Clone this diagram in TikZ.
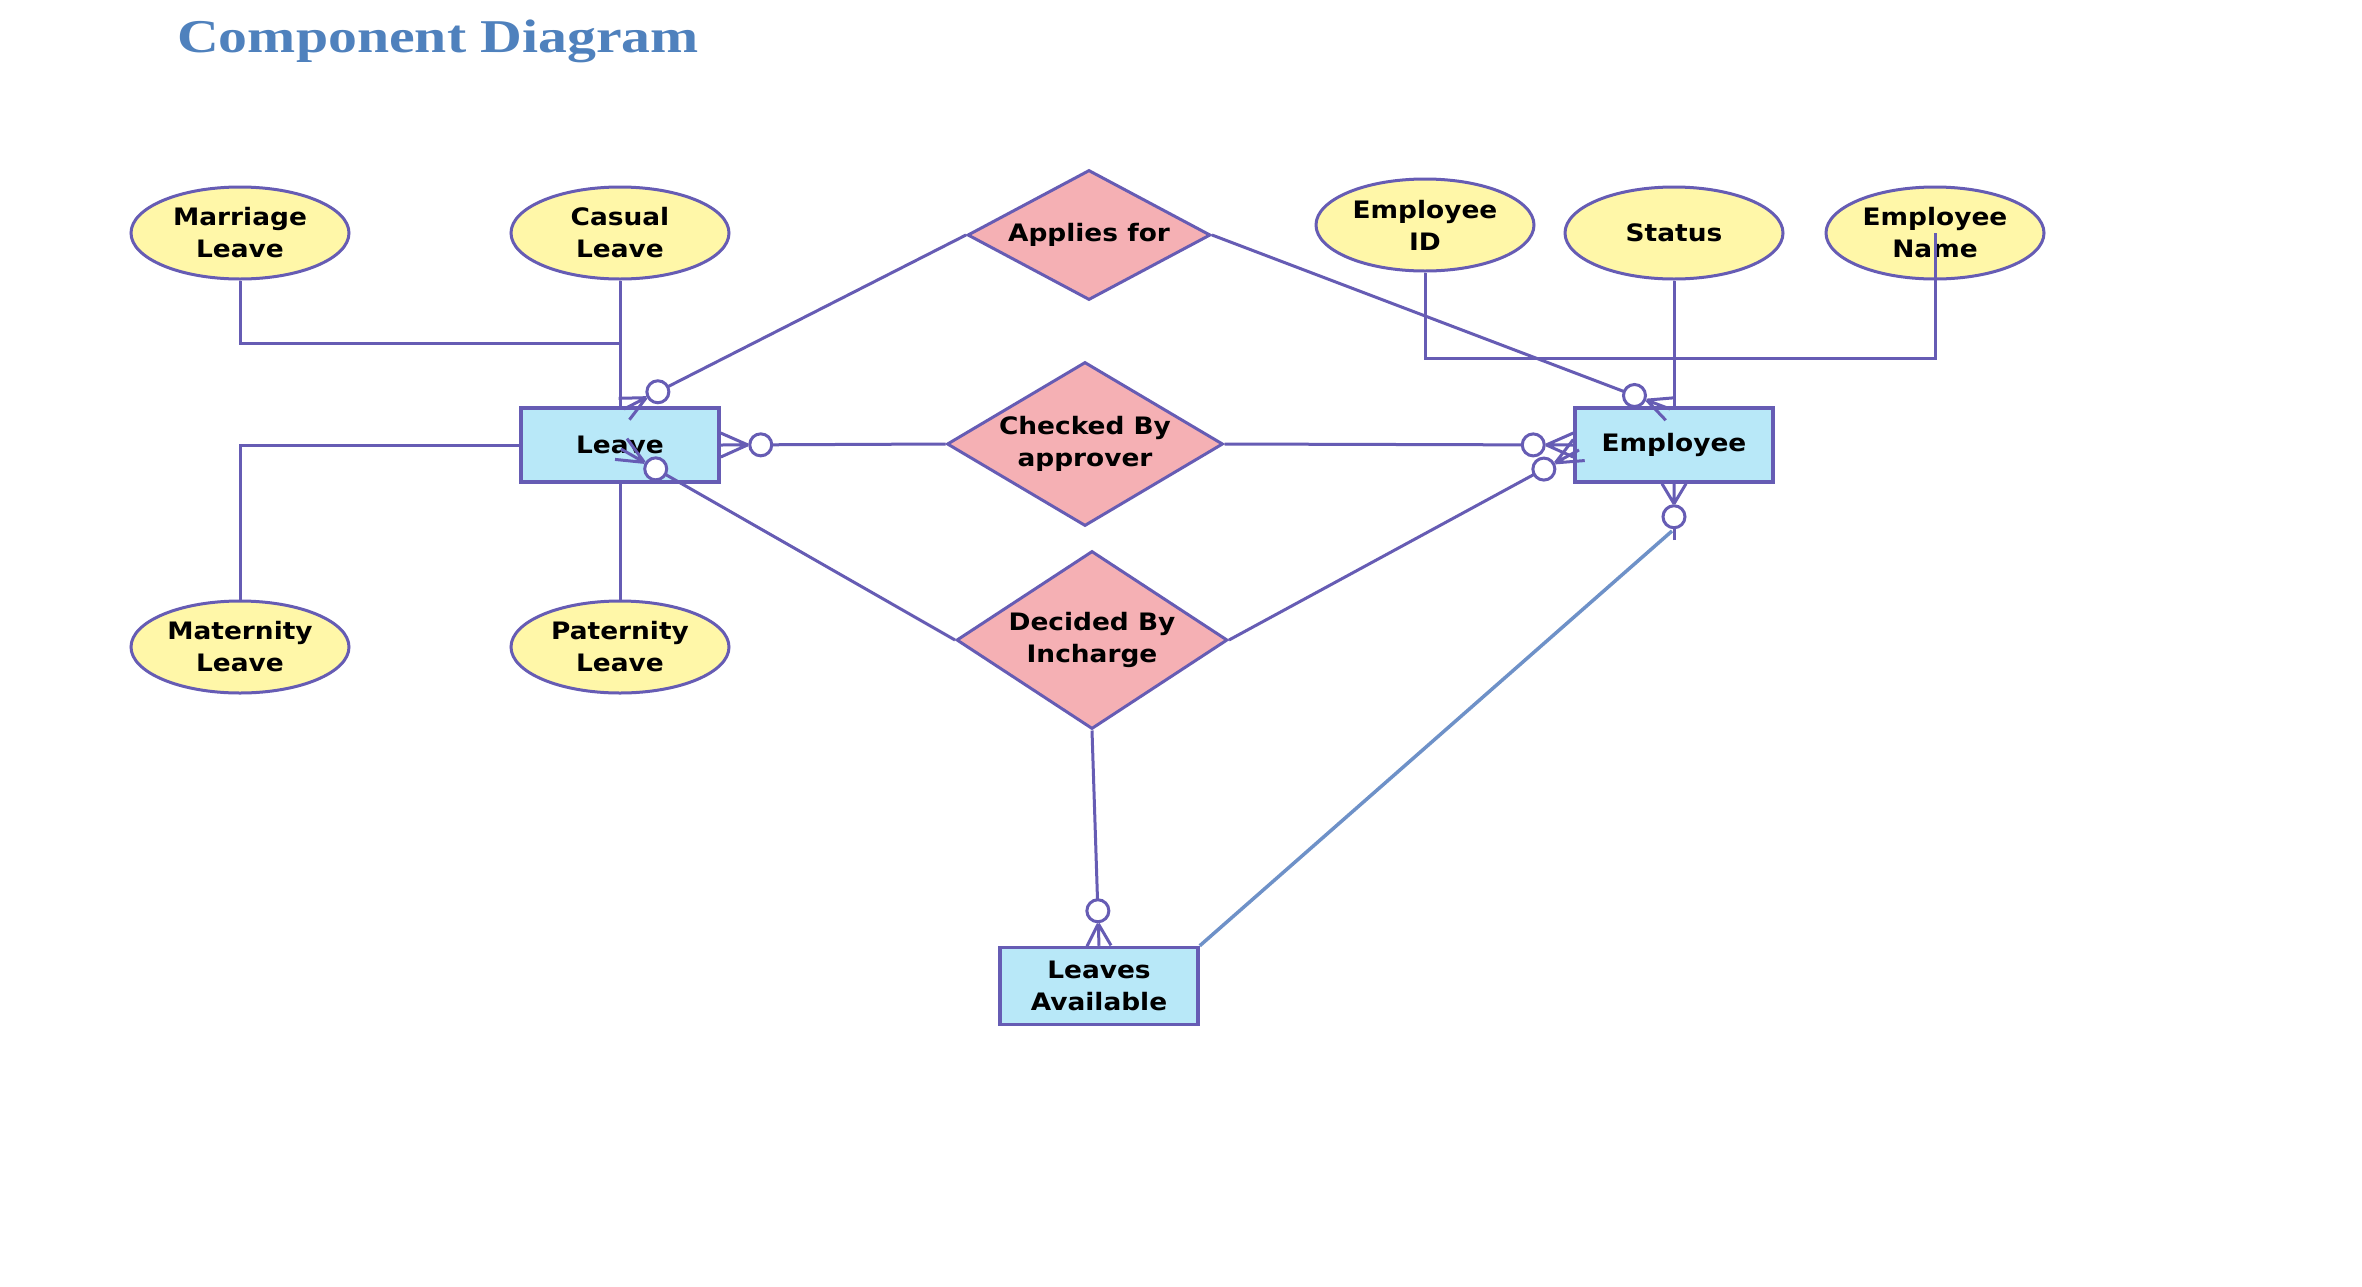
\documentclass[tikz,border=0pt]{standalone}
\usepackage{fontspec}
\usetikzlibrary{shapes.geometric,calc}
\newfontfamily\lblfont[FakeStretch=1.1]{DejaVu Sans}
\newfontfamily\ttlfont[FakeStretch=1.23]{Liberation Serif}
\definecolor{lineC}{RGB}{102,92,180}
\definecolor{attrC}{RGB}{255,247,168}
\definecolor{entC}{RGB}{184,232,248}
\definecolor{relC}{RGB}{245,176,180}
\definecolor{ttlC}{RGB}{79,129,189}
\definecolor{blueL}{RGB}{110,145,200}
\newcommand\zmany[3][40]{%
  \pgfmathsetmacro\zmc{#1}%
  \pgfmathsetmacro\zme{#1+11}%
  \pgfmathsetmacro\zmf{#1-13}%
  \draw[conn] (#2) -- ($(#3)!\zme pt!(#2)$);
  \draw[conn, fill=white] ($(#3)!\zmc pt!(#2)$) circle (11pt);
  \draw[conn] ($(#3)!\zmf pt!(#2)$) -- (#3)
              ($(#3)!\zmf pt!(#2)$) -- ($(#3)!12pt!90:(#2)$)
              ($(#3)!\zmf pt!(#2)$) -- ($(#3)!12pt!-90:(#2)$);
}
\begin{document}
\begin{tikzpicture}[x=1pt,y=-1pt,
  lbl/.style={font=\lblfont\bfseries\fontsize{24}{32}\selectfont, align=center, text=black},
  attr/.style={lbl, ellipse, draw=lineC, fill=attrC, line width=3pt, minimum width=218pt, minimum height=92pt, inner sep=0pt},
  ent/.style={lbl, rectangle, draw=lineC, fill=entC, line width=3.5pt, minimum width=198pt, minimum height=74pt, inner sep=0pt},
  rel/.style={lbl, diamond, draw=lineC, fill=relC, line width=3pt, inner sep=0pt},
  conn/.style={draw=lineC, line width=3pt},
  bluecon/.style={draw=blueL, line width=3.5pt},
  ttl/.style={font=\ttlfont\bfseries\fontsize{47}{56}\selectfont, text=ttlC, inner sep=0pt}]
\fill[white] (0,0) rectangle (2362,1286);
\useasboundingbox (0,0) rectangle (2362,1286);
\node[ttl, anchor=base west] (title) at (177,52) {Component Diagram};
% attributes
\node[attr] (mar) at (240,233) {Marriage\\Leave};
\node[attr] (cas) at (620,233) {Casual\\Leave};
\node[attr] (mat) at (240,647) {Maternity\\Leave};
\node[attr] (pat) at (620,647) {Paternity\\Leave};
\node[attr] (eid) at (1425,225) {Employee\\ID};
\node[attr] (sta) at (1674,233) {Status};
\node[attr] (enm) at (1935,233) {Employee\\Name};
% entities
\node[ent] (lv) at (620,445) {Leave};
\node[ent] (emp) at (1674,445) {Employee};
\node[ent, minimum height=77pt] (la) at (1099,986) {Leaves\\Available};
% relationships
\node[rel, aspect=1.87, minimum width=243pt, minimum height=130pt] (app) at (1089,235) {Applies for};
\node[rel, aspect=1.68, minimum width=276pt, minimum height=164pt] (chk) at (1085,444) {Checked By\\approver};
\node[rel, aspect=1.52, minimum width=271pt, minimum height=178pt] (dec) at (1092,640) {Decided By\\Incharge};
% attribute connectors
\coordinate (j1) at (620,343);
\draw[conn] (mar.south) |- (j1);
\draw[conn] (cas.south) -- (lv.north);
\draw[conn] (lv.west) -| (mat.north);
\draw[conn] (lv.south) -- (pat.north);
\coordinate (j2) at (1935,358);
\draw[conn] (eid.south) |- (j2) -- (enm.center);
\draw[conn] (sta.south) -- (emp.north);
% relationship connectors
\coordinate (lvtop) at (624,409);
\coordinate (emptop) at (1670,409);
\zmany[38]{app.west}{lvtop}
\zmany[38]{app.east}{emptop}
\zmany{chk.west}{lv.east}
\zmany{chk.east}{emp.west}
\coordinate (lvin) at (621,449);
\zmany{dec.west}{lvin}
\coordinate (empin) at (1579,450);
\zmany{dec.east}{empin}
\zmany[35]{dec.south}{la.north}
\coordinate (empend) at (1674,540);
\zmany[33]{empend}{emp.south}
\coordinate (blueend) at (1672,531);
\draw[bluecon] (la.north east) -- (blueend);
\end{tikzpicture}
\end{document}
